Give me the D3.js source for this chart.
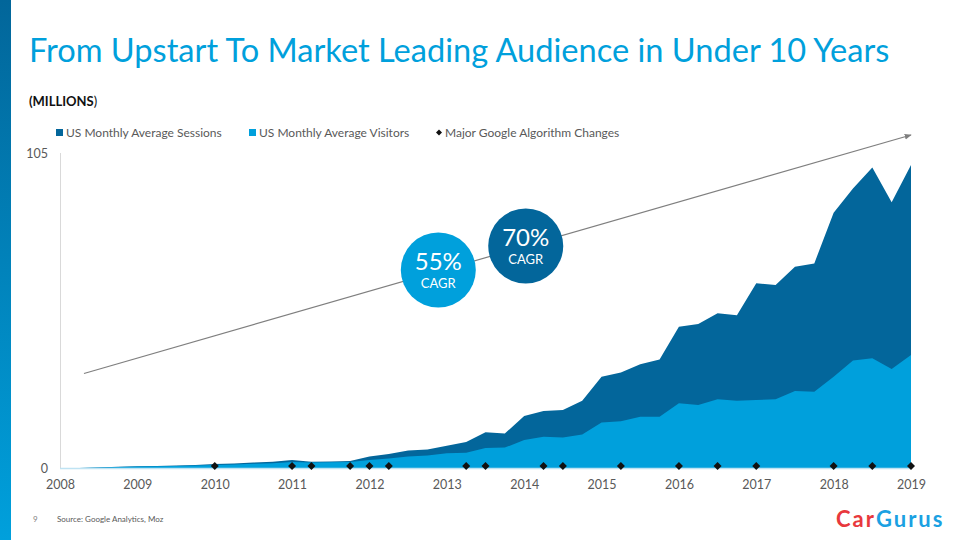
<!DOCTYPE html>
<html><head><meta charset="utf-8">
<script src="https://cdn.jsdelivr.net/npm/d3@7"></script>
<style>body{margin:0;background:#fff;}svg{display:block;font-family:Lato, "Open Sans", sans-serif;}</style>
</head><body>
<svg id="c" width="960" height="540"></svg>
<script>
// ---- data ----
const quarters = [2008.25,2008.5,2008.75,2009,2009.25,2009.5,2009.75,2010,2010.25,2010.5,2010.75,2011,2011.25,2011.5,2011.75,2012,2012.25,2012.5,2012.75,2013,2013.25,2013.5,2013.75,2014,2014.25,2014.5,2014.75,2015,2015.25,2015.5,2015.75,2016,2016.25,2016.5,2016.75,2017,2017.25,2017.5,2017.75,2018,2018.25,2018.5,2018.75,2019];
const sessions = [0,0.2,0.4,0.6,0.7,0.8,1.0,1.3,1.5,1.8,2.1,2.7,2.1,2.2,2.3,3.8,4.7,5.8,6.2,7.4,8.7,11.9,11.5,17.3,19.0,19.3,22.4,30.4,31.8,34.6,36.2,47.1,48.0,51.6,50.9,61.6,61.0,67.1,68.2,85.1,93.2,100.2,88.6,101.0];
const visitors = [0,0.2,0.3,0.5,0.6,0.7,0.8,1.0,1.2,1.4,1.6,2.0,1.8,1.9,2.0,2.7,3.2,3.8,4.2,4.9,5.1,6.7,6.8,9.3,10.4,10.2,11.2,15.2,15.6,17.1,17.1,21.6,21.0,22.9,22.4,22.7,22.9,25.7,25.4,30.4,35.8,36.6,33.0,37.7];
const algoChanges = [2010,2011,2011.25,2011.75,2012,2012.25,2013.25,2013.5,2014.25,2014.5,2015.25,2016,2016.5,2017,2018,2018.5,2019];
const algoMarkerValue = 0.7;
const yearTicks = [2008,2009,2010,2011,2012,2013,2014,2015,2016,2017,2018,2019];
const valueTicks = [0,105];
const seriesNames = ["US Monthly Average Sessions","US Monthly Average Visitors","Major Google Algorithm Changes"];
const cagr = [{label:"55%", sub:"CAGR", year:2012.89, value:66, color:"#00a0dc"},
              {label:"70%", sub:"CAGR", year:2014.02, value:74, color:"#03669b"}];
const trend = [{year:2008.31, value:31.5},{year:2019.0, value:111}];

const DARK="#03669b", LIGHT="#00a0dc";
const svg=d3.select("#c");
const defs=svg.append("defs");
const g1=defs.append("linearGradient").attr("id","side").attr("x1",0).attr("y1",0).attr("x2",0).attr("y2",1);
g1.append("stop").attr("offset","0%").attr("stop-color","#02669a");
g1.append("stop").attr("offset","100%").attr("stop-color","#00a0dc");
svg.append("rect").attr("x",0).attr("y",0).attr("width",11).attr("height",540).attr("fill","url(#side)");

svg.append("text").attr("x",29).attr("y",62).attr("font-size",32.6).attr("fill","#00a0dc")
  .text("From Upstart To Market Leading Audience in Under 10 Years");
const m=svg.append("text").attr("x",29).attr("y",106).attr("font-size",13).attr("fill","#111");
m.append("tspan").attr("font-weight","bold").text("(MILLIONS");
m.append("tspan").text(")");

const x=d3.scaleLinear().domain([2008,2019]).range([60,911]);
const y=d3.scaleLinear().domain([0,105]).range([468,153]);

// legend
const leg=svg.append("g").attr("font-size",12).attr("fill","#595959");
leg.append("rect").attr("x",56).attr("y",129).attr("width",7).attr("height",7).attr("fill",DARK);
leg.append("text").attr("x",66).attr("y",137).text(seriesNames[0]);
leg.append("rect").attr("x",249).attr("y",129).attr("width",7).attr("height",7).attr("fill",LIGHT);
leg.append("text").attr("x",259).attr("y",137).text(seriesNames[1]);
leg.append("path").attr("d",d3.symbol(d3.symbolSquare,18)()).attr("transform","translate(439,132.5) rotate(45)").attr("fill","#111");
leg.append("text").attr("x",445).attr("y",137).text(seriesNames[2]);

// y axis line
svg.append("line").attr("x1",60.5).attr("x2",60.5).attr("y1",153).attr("y2",468).attr("stroke","#d9d9d9");

const idx=d3.range(quarters.length);
svg.append("path").datum(idx).attr("fill",DARK)
  .attr("d",d3.area().x(i=>x(quarters[i])).y0(y(0)).y1(i=>y(sessions[i])));
svg.append("path").datum(idx).attr("fill",LIGHT)
  .attr("d",d3.area().x(i=>x(quarters[i])).y0(y(0)).y1(i=>y(visitors[i])));

svg.append("line").attr("x1",60).attr("x2",912).attr("y1",468.5).attr("y2",468.5).attr("stroke","#bfe3f3").attr("stroke-width",1.5);

const xa=svg.append("g").attr("transform","translate(0,468)")
  .call(d3.axisBottom(x).tickValues(yearTicks).tickFormat(d3.format("d")).tickSize(0).tickPadding(12));
xa.select(".domain").remove();
xa.selectAll("text").attr("font-size",12.5).attr("fill","#595959").attr("font-family","Lato");
const ya=svg.append("g").attr("transform","translate(52,0)")
  .call(d3.axisLeft(y).tickValues(valueTicks).tickSize(0).tickPadding(4));
ya.select(".domain").remove();
ya.selectAll("text").attr("font-size",12.5).attr("fill","#595959").attr("font-family","Lato");

// algo markers
svg.append("g").selectAll("path").data(algoChanges).join("path")
  .attr("d",d3.symbol(d3.symbolSquare,32)())
  .attr("transform",d=>`translate(${x(d)},${y(algoMarkerValue)}) rotate(45)`)
  .attr("fill","#111");

// trend arrow
defs.append("marker").attr("id","arr").attr("viewBox","0 0 10 10").attr("refX",9).attr("refY",5)
  .attr("markerWidth",7).attr("markerHeight",7).attr("orient","auto").attr("markerUnits","userSpaceOnUse")
  .append("path").attr("d","M0,1 L10,5 L0,9 z").attr("fill","#7f7f7f");
svg.append("line").attr("x1",x(trend[0].year)).attr("y1",y(trend[0].value))
  .attr("x2",x(trend[1].year)).attr("y2",y(trend[1].value))
  .attr("stroke","#7f7f7f").attr("stroke-width",1.2).attr("marker-end","url(#arr)");

// CAGR bubbles
const b=svg.append("g").selectAll("g").data(cagr).join("g")
  .attr("transform",d=>`translate(${x(d.year)},${y(d.value)})`);
b.append("circle").attr("r",37.5).attr("fill",d=>d.color);
b.append("text").attr("text-anchor","middle").attr("y",0).attr("font-size",24).attr("fill","#fff").text(d=>d.label);
b.append("text").attr("text-anchor","middle").attr("y",18).attr("font-size",13).attr("fill","#fff").text(d=>d.sub);

// footer
svg.append("text").attr("x",33).attr("y",522).attr("font-size",8).attr("fill","#7f7f7f").text("9");
svg.append("text").attr("x",57).attr("y",522).attr("font-size",8).attr("fill","#595959").text("Source: Google Analytics, Moz");
const logo=svg.append("text").attr("x",836).attr("y",527).attr("font-size",22).attr("font-weight","bold").attr("letter-spacing",2);
logo.append("tspan").attr("fill","#e8383d").text("Car");
logo.append("tspan").attr("fill","#1ba1e2").text("Gurus");
</script>
</body></html>
